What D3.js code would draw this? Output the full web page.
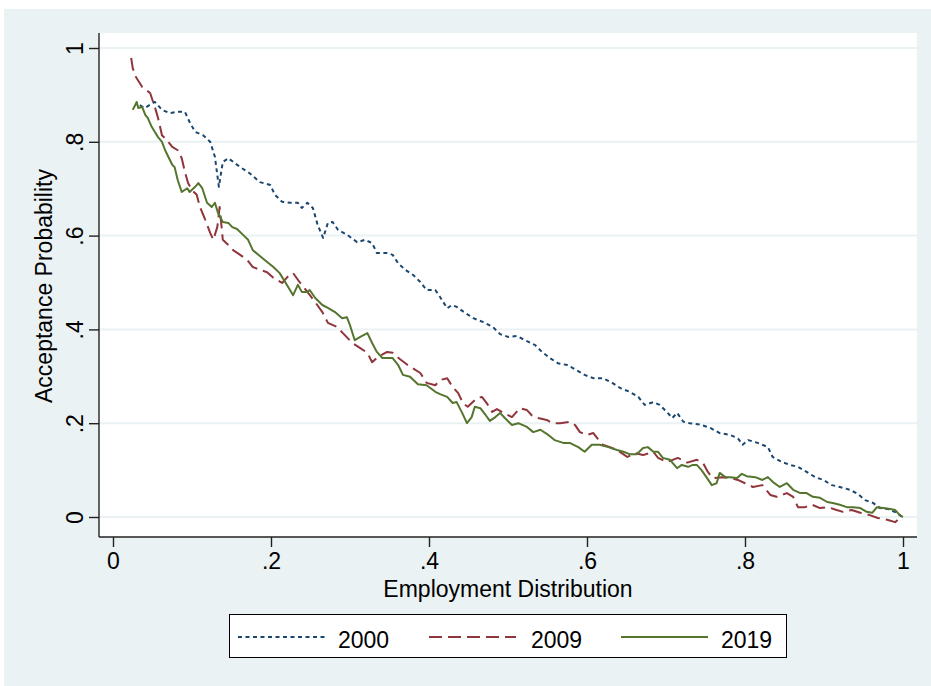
<!DOCTYPE html>
<html><head><meta charset="utf-8">
<script src="https://cdn.jsdelivr.net/npm/d3@7"></script>
<style>
html,body{margin:0;padding:0;background:#fff;}
text{font-family:"Liberation Sans",Arial,Helvetica,sans-serif;fill:#000;}
</style>
</head><body>
<svg id="chart" width="931" height="686"></svg>
<script>
// ---- data ----
const seriesNames = ["2000", "2009", "2019"];
const xTickValues = [0, 0.2, 0.4, 0.6, 0.8, 1];
const xTickLabels = ["0", ".2", ".4", ".6", ".8", "1"];
const yTickValues = [0, 0.2, 0.4, 0.6, 0.8, 1];
const yTickLabels = ["0", ".2", ".4", ".6", ".8", "1"];
const xTitle = "Employment Distribution";
const yTitle = "Acceptance Probability";

const s2000 = [[.034,.878],[.040,.872],[.053,.885],[.062,.868],[.072,.861],[.082,.864],[.091,.864],[.097,.842],[.104,.821],[.114,.814],[.123,.800],[.129,.768],[.134,.704],[.139,.757],[.146,.765],[.161,.746],[.173,.733],[.186,.714],[.199,.708],[.205,.687],[.214,.672],[.224,.670],[.234,.670],[.239,.659],[.246,.670],[.253,.659],[.259,.623],[.266,.595],[.272,.627],[.278,.629],[.285,.612],[.297,.601],[.309,.586],[.319,.591],[.328,.584],[.334,.563],[.347,.563],[.354,.559],[.361,.541],[.370,.527],[.380,.516],[.389,.501],[.397,.484],[.408,.484],[.414,.469],[.423,.445],[.429,.452],[.435,.448],[.446,.435],[.456,.424],[.468,.416],[.481,.405],[.490,.390],[.500,.384],[.511,.386],[.524,.375],[.534,.367],[.543,.352],[.553,.339],[.563,.328],[.575,.324],[.587,.313],[.597,.303],[.608,.296],[.620,.296],[.632,.286],[.642,.275],[.654,.267],[.665,.256],[.673,.239],[.684,.245],[.692,.239],[.701,.224],[.708,.211],[.714,.222],[.722,.203],[.730,.200],[.743,.197],[.756,.190],[.768,.179],[.781,.175],[.791,.168],[.797,.154],[.804,.164],[.816,.158],[.829,.149],[.835,.128],[.847,.117],[.857,.111],[.867,.107],[.878,.096],[.889,.085],[.899,.079],[.910,.068],[.920,.064],[.933,.058],[.943,.049],[.952,.036],[.962,.030],[.971,.019],[.981,.017],[.992,.009],[.999,.000]];

const s2009 = [[.023,.979],[.025,.957],[.029,.938],[.037,.917],[.047,.904],[.053,.874],[.057,.851],[.062,.814],[.068,.804],[.075,.789],[.082,.782],[.087,.765],[.091,.736],[.095,.712],[.100,.697],[.106,.687],[.110,.661],[.116,.637],[.123,.606],[.127,.591],[.132,.618],[.135,.661],[.139,.591],[.146,.580],[.152,.569],[.161,.559],[.170,.548],[.177,.533],[.186,.527],[.195,.522],[.203,.510],[.214,.499],[.221,.512],[.228,.520],[.237,.499],[.246,.480],[.256,.458],[.265,.437],[.272,.414],[.284,.405],[.291,.392],[.303,.371],[.313,.360],[.322,.350],[.328,.330],[.335,.341],[.347,.352],[.354,.350],[.363,.337],[.373,.324],[.389,.307],[.397,.286],[.408,.281],[.414,.292],[.423,.296],[.430,.277],[.437,.264],[.443,.243],[.449,.235],[.461,.254],[.467,.256],[.473,.243],[.480,.224],[.486,.230],[.494,.222],[.505,.213],[.515,.232],[.524,.228],[.530,.217],[.538,.211],[.549,.207],[.556,.200],[.566,.200],[.578,.203],[.585,.196],[.591,.181],[.600,.175],[.608,.179],[.613,.168],[.620,.154],[.629,.149],[.638,.143],[.651,.128],[.661,.136],[.671,.132],[.684,.139],[.690,.126],[.701,.117],[.715,.126],[.727,.116],[.739,.122],[.747,.115],[.753,.096],[.759,.083],[.771,.085],[.781,.083],[.791,.079],[.800,.072],[.810,.064],[.822,.068],[.832,.047],[.840,.043],[.853,.051],[.861,.043],[.867,.021],[.876,.021],[.885,.026],[.895,.019],[.905,.021],[.916,.015],[.924,.011],[.935,.015],[.946,.009],[.958,.004],[.968,-.002],[.980,-.006],[.990,-.011],[.996,-.002]];

const s2019 = [[.025,.868],[.028,.878],[.030,.885],[.032,.872],[.037,.874],[.041,.857],[.044,.851],[.049,.832],[.053,.821],[.057,.810],[.062,.800],[.066,.782],[.070,.768],[.075,.751],[.078,.746],[.082,.718],[.087,.693],[.094,.701],[.097,.693],[.104,.704],[.108,.712],[.113,.701],[.119,.670],[.125,.661],[.129,.670],[.133,.648],[.139,.629],[.146,.627],[.151,.618],[.157,.614],[.165,.601],[.171,.591],[.177,.569],[.184,.559],[.192,.548],[.203,.533],[.211,.520],[.220,.495],[.228,.473],[.234,.495],[.239,.480],[.246,.480],[.249,.484],[.256,.467],[.265,.452],[.272,.446],[.281,.437],[.290,.424],[.296,.426],[.300,.409],[.306,.377],[.313,.384],[.322,.392],[.328,.371],[.334,.352],[.341,.339],[.347,.339],[.354,.339],[.361,.324],[.367,.303],[.376,.299],[.386,.283],[.397,.281],[.408,.267],[.414,.262],[.423,.256],[.430,.243],[.435,.245],[.442,.222],[.448,.200],[.454,.213],[.458,.235],[.465,.232],[.471,.219],[.477,.205],[.484,.213],[.490,.222],[.496,.211],[.505,.196],[.513,.200],[.524,.192],[.532,.181],[.541,.186],[.551,.175],[.559,.164],[.570,.158],[.578,.158],[.589,.149],[.597,.139],[.606,.154],[.616,.154],[.627,.149],[.638,.143],[.646,.139],[.654,.134],[.663,.134],[.671,.147],[.677,.149],[.684,.139],[.690,.139],[.696,.126],[.705,.122],[.714,.104],[.720,.111],[.728,.107],[.734,.111],[.739,.111],[.745,.100],[.752,.083],[.758,.068],[.764,.072],[.768,.094],[.775,.085],[.781,.085],[.790,.083],[.796,.092],[.802,.087],[.813,.085],[.822,.079],[.829,.085],[.835,.075],[.844,.064],[.853,.072],[.861,.058],[.870,.051],[.878,.051],[.886,.043],[.895,.041],[.904,.032],[.911,.030],[.920,.026],[.929,.021],[.937,.021],[.946,.019],[.954,.011],[.961,.009],[.967,.021],[.975,.019],[.984,.017],[.990,.015],[.996,.004],[1.0,.000]];

const seriesData = [s2000, s2009, s2019];

// ---- styles / layout ----
const colors = ["#1a476f", "#90353b", "#55752f"];
const dashes = ["4,3.5", "13,6", null];
const bg = "#eaf2f3";
const plot = {left: 99, right: 917, top: 33, bottom: 537};

const svg = d3.select("#chart");
svg.append("rect").attr("x", 4).attr("y", 9).attr("width", 927).attr("height", 677).attr("fill", bg);
svg.append("rect").attr("x", plot.left).attr("y", plot.top)
  .attr("width", plot.right - plot.left).attr("height", plot.bottom - plot.top).attr("fill", "#fff");

const x = d3.scaleLinear().domain([0, 1]).range([113, 903]);
const y = d3.scaleLinear().domain([0, 1]).range([517, 48]);

// gridlines
svg.append("g").selectAll("line").data(yTickValues).join("line")
  .attr("x1", plot.left).attr("x2", plot.right)
  .attr("y1", d => y(d)).attr("y2", d => y(d))
  .attr("stroke", bg).attr("stroke-width", 2);

// lines
const clip = svg.append("clipPath").attr("id", "clip").append("rect")
  .attr("x", plot.left).attr("y", plot.top).attr("width", plot.right - plot.left).attr("height", plot.bottom - plot.top);
const line = d3.line().x(d => x(d[0])).y(d => y(d[1]));
const g = svg.append("g").attr("clip-path", "url(#clip)");
seriesData.forEach((s, i) => {
  g.append("path").datum(s).attr("d", line).attr("fill", "none")
    .attr("stroke", colors[i]).attr("stroke-width", 2)
    .attr("stroke-linejoin", "round")
    .attr("stroke-dasharray", dashes[i]);
});

// axes
const fs = 23;
const xAxis = d3.axisBottom(x).tickValues(xTickValues).tickFormat((d, i) => xTickLabels[i])
  .tickSize(10).tickPadding(6);
const xg = svg.append("g").attr("transform", `translate(0,${plot.bottom})`).call(xAxis);
xg.select(".domain").remove();
xg.selectAll(".tick line").attr("stroke", "#222").attr("stroke-width", 1.4);
xg.selectAll(".tick text").attr("font-size", fs).attr("font-family", "Liberation Sans, Arial, sans-serif").attr("fill", "#000");

const yAxis = d3.axisLeft(y).tickValues(yTickValues).tickFormat((d, i) => yTickLabels[i])
  .tickSize(10).tickPadding(0);
const yg = svg.append("g").attr("transform", `translate(${plot.left},0)`).call(yAxis);
yg.select(".domain").remove();
yg.selectAll(".tick line").attr("stroke", "#222").attr("stroke-width", 1.4);
yg.selectAll(".tick text").attr("font-size", fs).attr("font-family", "Liberation Sans, Arial, sans-serif").attr("fill", "#000")
  .attr("text-anchor", "middle").attr("x", null).attr("dy", null)
  .attr("transform", "translate(-16,0) rotate(-90)").attr("y", 0);

// axis lines
svg.append("line").attr("x1", plot.left).attr("x2", plot.left).attr("y1", plot.top).attr("y2", plot.bottom)
  .attr("stroke", "#222").attr("stroke-width", 1.4);
svg.append("line").attr("x1", plot.left).attr("x2", plot.right).attr("y1", plot.bottom).attr("y2", plot.bottom)
  .attr("stroke", "#222").attr("stroke-width", 1.4);

// titles
svg.append("text").attr("x", 508).attr("y", 597).attr("text-anchor", "middle").attr("font-size", fs).text(xTitle);
svg.append("text").attr("transform", "translate(52,286) rotate(-90)").attr("text-anchor", "middle").attr("font-size", fs).text(yTitle);

// legend
const lg = svg.append("g");
lg.append("rect").attr("x", 229.5).attr("y", 614.5).attr("width", 557).attr("height", 43)
  .attr("fill", "#fff").attr("stroke", "#000").attr("stroke-width", 1);
const legX = [238, 429, 621];
const legTextX = [338, 531, 721];
seriesNames.forEach((n, i) => {
  lg.append("line").attr("x1", legX[i]).attr("x2", legX[i] + 87).attr("y1", 637).attr("y2", 637)
    .attr("stroke", colors[i]).attr("stroke-width", 2).attr("stroke-dasharray", dashes[i]);
  lg.append("text").attr("x", legTextX[i]).attr("y", 648).attr("font-size", fs).text(n);
});
</script>
</body></html>
